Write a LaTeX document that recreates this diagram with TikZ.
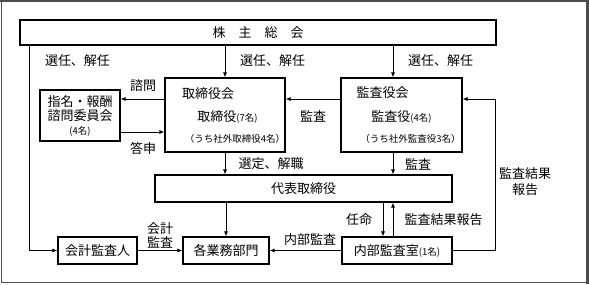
\documentclass[tikz,border=0pt]{standalone}
\usepackage{fontspec}
\setmainfont{Noto Sans CJK JP}
\usetikzlibrary{arrows.meta, positioning}
\definecolor{waku}{HTML}{4D4D4D}
\tikzset{
  every picture/.style={font=\fontsize{13}{14}\selectfont, >={Latex[length=5pt,width=4pt]}},
  hako/.style={draw=black, line width=1.1pt, inner sep=0pt, align=center},
  moji/.style={inner sep=1pt, align=center},
  chu/.style={inner sep=1pt, font=\fontsize{9.5}{11}\selectfont},
  yaji/.style={->, line width=0.8pt},
  sen/.style={line width=0.8pt},
}
\newcommand{\mei}[1]{{\fontsize{9.5}{11}\selectfont #1}}

\begin{document}
\begin{tikzpicture}[x=1pt, y=-1pt]
  \useasboundingbox (0,0) rectangle (589,284);
  \fill[waku] (0,0) rectangle (589,2); \fill[waku] (586,0) rectangle (589,284);
  \draw[waku, line width=1pt] (1.5,2) -- (1.5,282.5) -- (586,282.5);

  \node[hako, minimum width=476pt, minimum height=25pt] (kabu) at (258,32.5) {株　主　総　会};
  \node[hako, minimum width=120pt, minimum height=74pt] (tr) at (225,115) {};
  \node[hako, minimum width=121pt, minimum height=74pt] (ky) at (401.5,115) {};
  \node[hako, minimum width=80pt, minimum height=51pt] (shimei) at (80,115.5) {指名・報酬\\諮問委員会\\\mei{(4名)}};
  \node[hako, minimum width=297pt, minimum height=27pt] (daihyo) at (303.5,188.5) {代表取締役};
  \node[hako, minimum width=79pt, minimum height=27pt] (kaikei) at (97.5,250.5) {会計監査人};
  \node[hako, minimum width=86pt, minimum height=27pt] (gyomu) at (226,250.5) {各業務部門};
  \node[hako, minimum width=110pt, minimum height=27pt] (naibu) at (397,250.5) {内部監査室\mei{(1名)}};

  \node[moji] (trmei) at (208,94) {取締役会};
  \node[moji] (trnin) at (227.5,117) {取締役\mei{(7名)}};
  \node[chu] (trgai) at (235,139) {（うち社外取締役4名）};
  \node[moji] (kymei) at (382.5,93) {監査役会};
  \node[moji] (kynin) at (401.5,117) {監査役\mei{(4名)}};
  \node[chu] (kygai) at (410.5,139) {（うち社外監査役3名）};

  \coordinate (hidari) at (29,0); \coordinate (migi) at (495,99);
  \coordinate (kyx) at (393,0); \coordinate (ninx) at (383,0);
  \coordinate (shimon) at (0,99); \coordinate (toshin) at (0,132);

  \draw[yaji] (tr.north |- kabu.south) -- (tr.north);
  \draw[yaji] (kyx |- kabu.south) -- (kyx |- ky.north);
  \draw[yaji] (hidari |- kabu.south) |- (kaikei.west);
  \draw[yaji] (tr.west |- shimon) -- (shimei.east |- shimon);
  \draw[yaji] (shimei.east |- toshin) -- (tr.west |- toshin);
  \draw[yaji] (ky.west |- shimon) -- (tr.east |- shimon);
  \draw[sen] (naibu.east) -| (migi); \draw[yaji] (migi) -- (ky.east |- migi);
  \draw[yaji] (tr.south) -- (tr.south |- daihyo.north);
  \draw[yaji] (kyx |- ky.south) -- (kyx |- daihyo.north);
  \draw[yaji] (gyomu.north |- daihyo.south) -- (gyomu.north);
  \draw[yaji] (kaikei.east) -- (gyomu.west);
  \draw[yaji] (naibu.west) -- (gyomu.east);
  \draw[yaji] (ninx |- daihyo.south) -- (ninx |- naibu.north);
  \draw[yaji] (kyx |- naibu.north) -- (kyx |- daihyo.south);

  \node[moji] (sen1) at (77.5,61) {選任、解任};
  \node[moji] (sen2) at (272.5,61) {選任、解任};
  \node[moji] (sen3) at (440.5,61) {選任、解任};
  \node[moji] (shimonl) at (143,86) {諮問};
  \node[moji] (toshinl) at (143,148) {答申};
  \node[moji] (kansal) at (313,116) {監査};
  \node[moji] (senteil) at (271,164) {選定、解職};
  \node[moji] (kansa2l) at (418,164) {監査};
  \node[moji] (hokoku1) at (525,181.5) {監査結果\\[2pt]報告};
  \node[moji] (kaikeil) at (160,235) {会計\\監査};
  \node[moji] (naibul) at (310,240) {内部監査};
  \node[moji] (ninmeil) at (359,220) {任命};
  \node[moji] (hokoku2) at (443.5,220) {監査結果報告};
\end{tikzpicture}
\end{document}
